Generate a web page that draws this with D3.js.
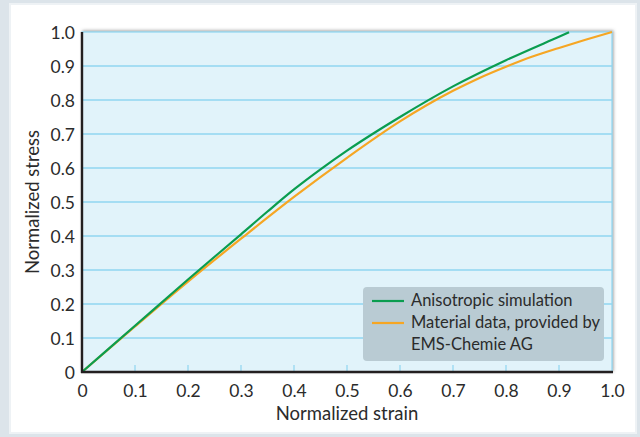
<!DOCTYPE html>
<html><head><meta charset="utf-8">
<script src="https://cdn.jsdelivr.net/npm/d3@7"></script>
<style>
html,body{margin:0;padding:0;background:#fff;}
svg{display:block;}
text{font-family:Lato,"Open Sans",sans-serif;fill:#2b2b2b;}
</style></head>
<body>
<svg id="chart" width="640" height="437"></svg>
<script>
// ---- data ----
const xTicks = [0,0.1,0.2,0.3,0.4,0.5,0.6,0.7,0.8,0.9,1.0];
const yTicks = [0,0.1,0.2,0.3,0.4,0.5,0.6,0.7,0.8,0.9,1.0];
const tickLabels = ["0","0.1","0.2","0.3","0.4","0.5","0.6","0.7","0.8","0.9","1.0"];
const simStrain = [0,0.1,0.2,0.3,0.35,0.4,0.45,0.5,0.6,0.7,0.8,0.9,0.919];
const simStress = [0,0.136,0.272,0.405,0.472,0.537,0.596,0.651,0.75,0.84,0.917,0.986,0.999];
const matStrain = [0,0.1,0.2,0.3,0.4,0.5,0.6,0.7,0.75,0.8,0.85,0.9,0.95,1.0];
const matStress = [0,0.134,0.266,0.392,0.515,0.63,0.737,0.827,0.865,0.898,0.928,0.953,0.977,1.0];
const seriesNames = ["Anisotropic simulation","Material data, provided by","EMS-Chemie AG"];
const xTitle = "Normalized strain";
const yTitle = "Normalized stress";

const svg = d3.select("#chart");
const W = 640, H = 437;
const L = 82, R = 612, T = 32, B = 372;

// background frame
svg.append("rect").attr("x",0).attr("y",0).attr("width",W).attr("height",H).attr("fill","#dce4ea");
svg.append("rect").attr("x",9).attr("y",3).attr("width",628).attr("height",431).attr("fill","#eef2f5");
svg.append("rect").attr("x",11).attr("y",5).attr("width",624).attr("height",427).attr("fill","#ffffff");

const defs = svg.append("defs");
const f = defs.append("filter").attr("id","sh").attr("x","-5%").attr("y","-5%").attr("width","110%").attr("height","110%");
f.append("feDropShadow").attr("dx",1).attr("dy",-1).attr("stdDeviation",1.6).attr("flood-color","#555").attr("flood-opacity",0.55);

const x = d3.scaleLinear().domain([0,1]).range([L,R]);
const y = d3.scaleLinear().domain([0,1]).range([B,T]);

// plot area
svg.append("rect").attr("x",L).attr("y",T).attr("width",R-L).attr("height",B-T)
  .attr("fill","#e1f3fa").attr("stroke","#8fd6f0").attr("stroke-width",1.2).attr("filter","url(#sh)");

// grid lines
svg.append("g").selectAll("line").data(yTicks.filter(d=>d>0&&d<1)).join("line")
  .attr("x1",L).attr("x2",R).attr("y1",d=>y(d)).attr("y2",d=>y(d))
  .attr("stroke","#8fd6f0").attr("stroke-width",1.6);

// x inner ticks
svg.append("g").selectAll("line").data(xTicks.filter(d=>d>0&&d<1)).join("line")
  .attr("x1",d=>x(d)).attr("x2",d=>x(d)).attr("y1",B).attr("y2",B-7)
  .attr("stroke","#8fd6f0").attr("stroke-width",1.2);

// axes via d3
const xAxis = d3.axisBottom(x).tickValues(xTicks).tickSize(0).tickPadding(6)
  .tickFormat((d,i)=>tickLabels[i]);
const yAxis = d3.axisLeft(y).tickValues(yTicks).tickSize(0).tickPadding(7)
  .tickFormat((d,i)=>tickLabels[i]);

const gx = svg.append("g").attr("transform",`translate(0,${B})`).call(xAxis);
const gy = svg.append("g").attr("transform",`translate(${L},0)`).call(yAxis);
[gx,gy].forEach(g=>{
  g.select(".domain").remove();
  g.selectAll("text").style("font-family","Lato,'Open Sans',sans-serif").style("font-size","17.5px").attr("fill","#2b2b2b");
});
gx.selectAll("text").attr("y",25).attr("dy",0);
gy.selectAll("text").attr("dy","0.36em");

// lines
const line = d3.line().x(d=>x(d[0])).y(d=>y(d[1])).curve(d3.curveMonotoneX);
const sim = simStrain.map((v,i)=>[v,simStress[i]]);
const mat = matStrain.map((v,i)=>[v,matStress[i]]);
svg.append("path").datum(mat).attr("d",line).attr("fill","none").attr("stroke","#f6a623").attr("stroke-width",2.2);
svg.append("path").datum(sim).attr("d",line).attr("fill","none").attr("stroke","#0a9d4f").attr("stroke-width",2.2);

// axis lines (dark)
svg.append("line").attr("x1",L).attr("x2",L).attr("y1",T).attr("y2",B+1).attr("stroke","#231f20").attr("stroke-width",2.4);
svg.append("line").attr("x1",L-1).attr("x2",R+1).attr("y1",B).attr("y2",B).attr("stroke","#231f20").attr("stroke-width",2.4);

// titles
svg.append("text").attr("x",347).attr("y",420).attr("text-anchor","middle")
  .style("font-size","18.5px").text(xTitle);
svg.append("text").attr("transform",`translate(39,${(T+B)/2}) rotate(-90)`).attr("text-anchor","middle")
  .style("font-size","18.5px").text(yTitle);

// legend
const lg = svg.append("g");
lg.append("rect").attr("x",363).attr("y",287).attr("width",241).attr("height",74).attr("rx",4)
  .attr("fill","#b9cbd3");
lg.append("line").attr("x1",372).attr("x2",404).attr("y1",301).attr("y2",301).attr("stroke","#0a9d4f").attr("stroke-width",2.2);
lg.append("line").attr("x1",372).attr("x2",404).attr("y1",323).attr("y2",323).attr("stroke","#f6a623").attr("stroke-width",2.2);
lg.selectAll("text.lt").data(seriesNames).join("text").attr("class","lt")
  .attr("x",411).attr("y",(d,i)=>306+i*22).style("font-size","16.5px").text(d=>d);
</script>
</body></html>
